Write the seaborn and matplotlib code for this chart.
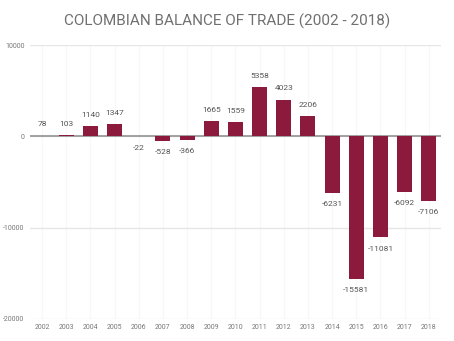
import matplotlib
matplotlib.use("Agg")
import matplotlib.pyplot as plt
import seaborn as sns
import pandas as pd

years = ["2002", "2003", "2004", "2005", "2006", "2007", "2008", "2009", "2010",
         "2011", "2012", "2013", "2014", "2015", "2016", "2017", "2018"]
balance = [78, 103, 1140, 1347, -22, -528, -366, 1665, 1559,
           5358, 4023, 2206, -6231, -15581, -11081, -6092, -7106]
yticks = [-20000, -10000, 0, 10000]

sns.set_style("white")
plt.rcParams['font.family'] = ['Roboto', 'DejaVu Sans']

df = pd.DataFrame({"year": years, "balance": balance})

fig = plt.figure(figsize=(4.54, 3.41), dpi=100)
ax = fig.add_axes([0.066, 0.065, 0.905, 0.803])

sns.barplot(data=df, x="year", y="balance", color="#8C1A3C", saturation=1,
            width=0.62, ax=ax, zorder=3, edgecolor="#8C1A3C", linewidth=0)

ax.set_ylim(-20000, 10000)
ax.set_yticks(yticks)
ax.set_yticklabels([str(t) for t in yticks])
ax.set_axisbelow(True)
ax.grid(axis="y", color="#e6e6e6", linewidth=1)
ax.grid(axis="x", color="#f7f7f7", linewidth=0.8)
ax.axhline(0, color="#9a9a9a", linewidth=1.3, zorder=2.5)
for s in ax.spines.values():
    s.set_visible(False)
ax.tick_params(axis="both", length=0, labelsize=5, labelcolor="#777777", pad=4)
ax.set_xlabel("")
ax.set_ylabel("")

for i, v in enumerate(balance):
    if v >= 0:
        ax.annotate(str(v), (i, v), xytext=(0, 6), textcoords="offset points",
                    ha="center", va="bottom", fontsize=6, color="#555555")
    else:
        ax.annotate(str(v), (i, v), xytext=(0, -6), textcoords="offset points",
                    ha="center", va="top", fontsize=6, color="#555555")

fig.text(0.5, 0.937, "COLOMBIAN BALANCE OF TRADE (2002 - 2018)", ha="center",
         va="center", fontsize=11, color="#707070")

fig.savefig("out.png", dpi=100)
